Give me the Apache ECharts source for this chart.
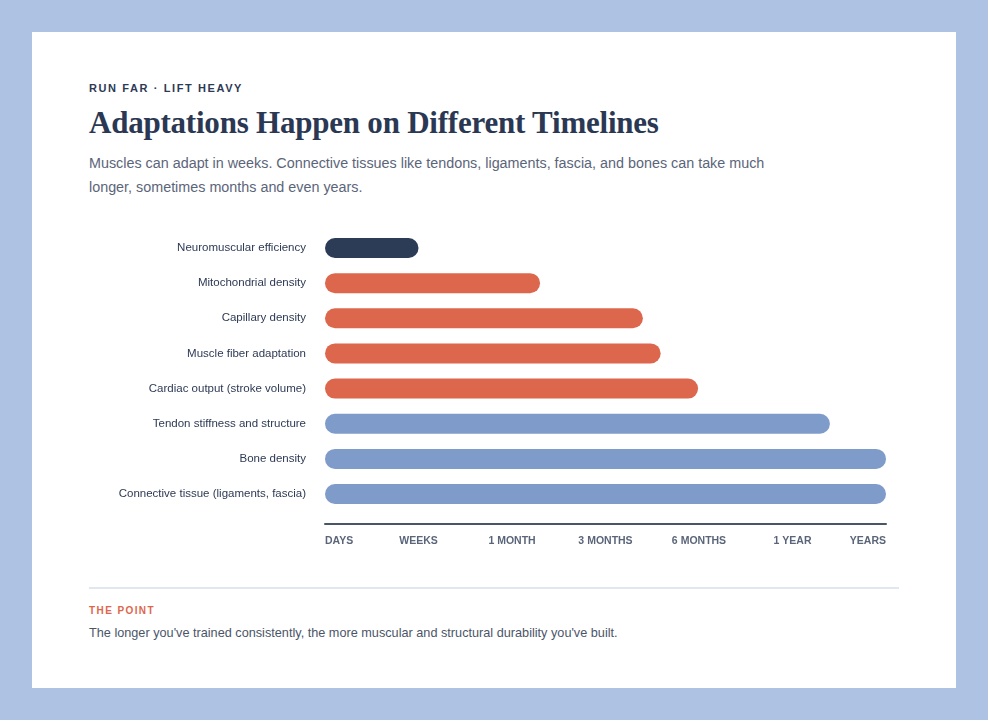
<!DOCTYPE html>
<html>
<head>
<meta charset="utf-8">
<script src="https://cdn.jsdelivr.net/npm/echarts@6/dist/echarts.min.js"></script>
<style>
  html, body { margin: 0; padding: 0; }
  body { width: 988px; height: 720px; background: #aec3e4; position: relative; overflow: hidden; font-family: "Liberation Sans", Arial, Helvetica, sans-serif; }
  #card { position: absolute; left: 32px; top: 32px; width: 924px; height: 656px; background: #ffffff; }
  .eyebrow { position: absolute; left: 89px; top: 82px; font-size: 11px; font-weight: bold; letter-spacing: 1.6px; color: #2d3a55; white-space: nowrap; }
  .title { position: absolute; left: 89px; top: 105px; font-family: "Liberation Serif", "Times New Roman", serif; font-weight: bold; font-size: 31px; letter-spacing: -0.22px; color: #2b3853; white-space: nowrap; }
  .sub { position: absolute; left: 89px; top: 151px; font-size: 14.35px; line-height: 24px; color: #5b6579; white-space: nowrap; }
  .divider { position: absolute; left: 89px; top: 587px; width: 810px; height: 2px; background: #e1e7f1; }
  .kicker { position: absolute; left: 89px; top: 605px; font-size: 10px; font-weight: bold; letter-spacing: 1.4px; color: #dc674c; white-space: nowrap; }
  .point { position: absolute; left: 89px; top: 626px; font-size: 12.7px; color: #4b5568; white-space: nowrap; }
  #chart { position: absolute; left: 0; top: 0; width: 988px; height: 720px; }
</style>
</head>
<body>
<div id="card"></div>
<div class="eyebrow">RUN FAR · LIFT HEAVY</div>
<div class="title">Adaptations Happen on Different Timelines</div>
<div class="sub">Muscles can adapt in weeks. Connective tissues like tendons, ligaments, fascia, and bones can take much<br>longer, sometimes months and even years.</div>
<div class="divider"></div>
<div class="kicker">THE POINT</div>
<div class="point">The longer you've trained consistently, the more muscular and structural durability you've built.</div>
<div id="chart"></div>
<script>
const categories = [
  "Neuromuscular efficiency",
  "Mitochondrial density",
  "Capillary density",
  "Muscle fiber adaptation",
  "Cardiac output (stroke volume)",
  "Tendon stiffness and structure",
  "Bone density",
  "Connective tissue (ligaments, fascia)"
];
// position on the timeline scale (0 = days ... 6 = years)
const values = [1.0, 2.3, 3.4, 3.59, 3.99, 5.4, 6.0, 6.0];
const groups = ["neural", "muscle", "muscle", "muscle", "muscle", "connective", "connective", "connective"];
const groupColors = { neural: "#2c3b56", muscle: "#dc674c", connective: "#7f9bca" };
const tickLabels = ["DAYS", "WEEKS", "1 MONTH", "3 MONTHS", "6 MONTHS", "1 YEAR", "YEARS"];

const chart = echarts.init(document.getElementById('chart'), null, { renderer: 'canvas' });
chart.setOption({
  animation: false,
  backgroundColor: 'transparent',
  grid: { left: 325, right: 102, top: 230.4, bottom: 208.4, containLabel: false },
  xAxis: {
    type: 'value', min: 0, max: tickLabels.length - 1, interval: 1,
    offset: 12.4,
    axisLine: { show: true, lineStyle: { color: '#4a5568', width: 2 } },
    axisTick: { show: false },
    splitLine: { show: false },
    axisLabel: {
      margin: 12,
      fontSize: 10.5, fontWeight: 'bold', color: '#5b6579',
      fontFamily: '"Liberation Sans", Arial, sans-serif',
      alignMinLabel: 'left', alignMaxLabel: 'right',
      formatter: (v) => tickLabels[Math.round(v)] || ''
    }
  },
  yAxis: {
    type: 'category', data: categories, inverse: true,
    axisLine: { show: false }, axisTick: { show: false },
    axisLabel: { margin: 19, fontSize: 11.5, color: '#2d3a55', fontFamily: '"Liberation Sans", Arial, sans-serif', padding: [4, 0, 0, 0] }
  },
  series: [{
    type: 'bar',
    barWidth: 20,
    data: values.map((v, i) => ({ value: v, itemStyle: { color: groupColors[groups[i]] } })),
    itemStyle: { borderRadius: 10 }
  }]
});
</script>
</body>
</html>
